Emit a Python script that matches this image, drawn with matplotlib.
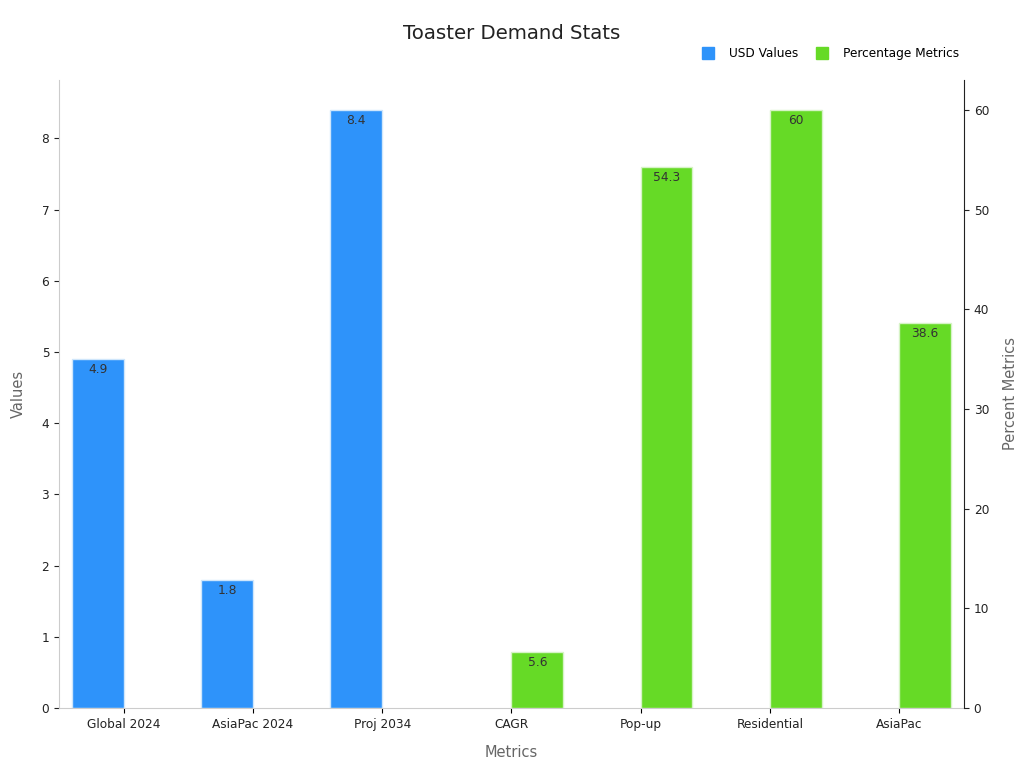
import matplotlib.pyplot as plt
import numpy as np
from matplotlib.lines import Line2D

categories = ['Global 2024', 'AsiaPac 2024', 'Proj 2034', 'CAGR', 'Pop-up', 'Residential', 'AsiaPac']
usd_idx = [0, 1, 2]
usd_values = [4.9, 1.8, 8.4]
pct_idx = [3, 4, 5, 6]
pct_values = [5.6, 54.3, 60, 38.6]

blue = '#2E93FA'
green = '#66DA26'

fig = plt.figure(figsize=(10.24, 7.68), dpi=100)
ax = fig.add_axes([0.0576, 0.078, 0.8838, 0.818])
ax2 = ax.twinx()

b1 = ax.bar(usd_idx, usd_values, width=-0.4, align='edge', color=blue, edgecolor='#cfe6fb', linewidth=1)
b2 = ax2.bar(pct_idx, pct_values, width=0.4, align='edge', color=green, edgecolor='#d6f3c6', linewidth=1)

for rect, v in zip(b1, usd_values):
    ax.text(rect.get_x() + rect.get_width() / 2, v - 0.06, f'{v:g}', ha='center', va='top', fontsize=8.8, color='#333333')
for rect, v in zip(b2, pct_values):
    ax2.text(rect.get_x() + rect.get_width() / 2, v - 0.4, f'{v:g}', ha='center', va='top', fontsize=8.8, color='#333333')

ax.set_xlim(-0.5, 6.5)
ax.set_ylim(0, 8.82)
ax2.set_ylim(0, 63)
ax.set_xticks(range(len(categories)))
ax.set_xticklabels(categories, fontsize=8.7, color='#222222')
ax.tick_params(axis='y', labelsize=8.7, colors='#222222')
ax2.tick_params(axis='y', labelsize=8.7, colors='#222222')
for a in (ax, ax2):
    for s in a.spines.values():
        s.set_color('#cccccc')
    a.spines['top'].set_visible(False)
ax2.spines['right'].set_color('#222222')
ax2.spines['left'].set_visible(False)
ax2.spines['bottom'].set_visible(False)
ax.spines['right'].set_visible(False)

ax.set_xlabel('Metrics', fontsize=10.5, color='#666666', labelpad=10)
ax.set_ylabel('Values', fontsize=10.5, color='#666666', labelpad=11)
ax2.set_ylabel('Percent Metrics', fontsize=10.5, color='#666666', labelpad=10)

fig.text(0.5, 0.957, 'Toaster Demand Stats', ha='center', va='center', fontsize=14.2, color='#222222')

handles = [Line2D([], [], marker='s', linestyle='none', markersize=8, color=blue),
           Line2D([], [], marker='s', linestyle='none', markersize=8, color=green)]
fig.legend(handles, ['USD Values', 'Percentage Metrics'], loc='center right', bbox_to_anchor=(0.947, 0.930),
           ncol=2, frameon=False, fontsize=8.7, handletextpad=0.7, columnspacing=1.0)

fig.savefig('out.png', dpi=100)
